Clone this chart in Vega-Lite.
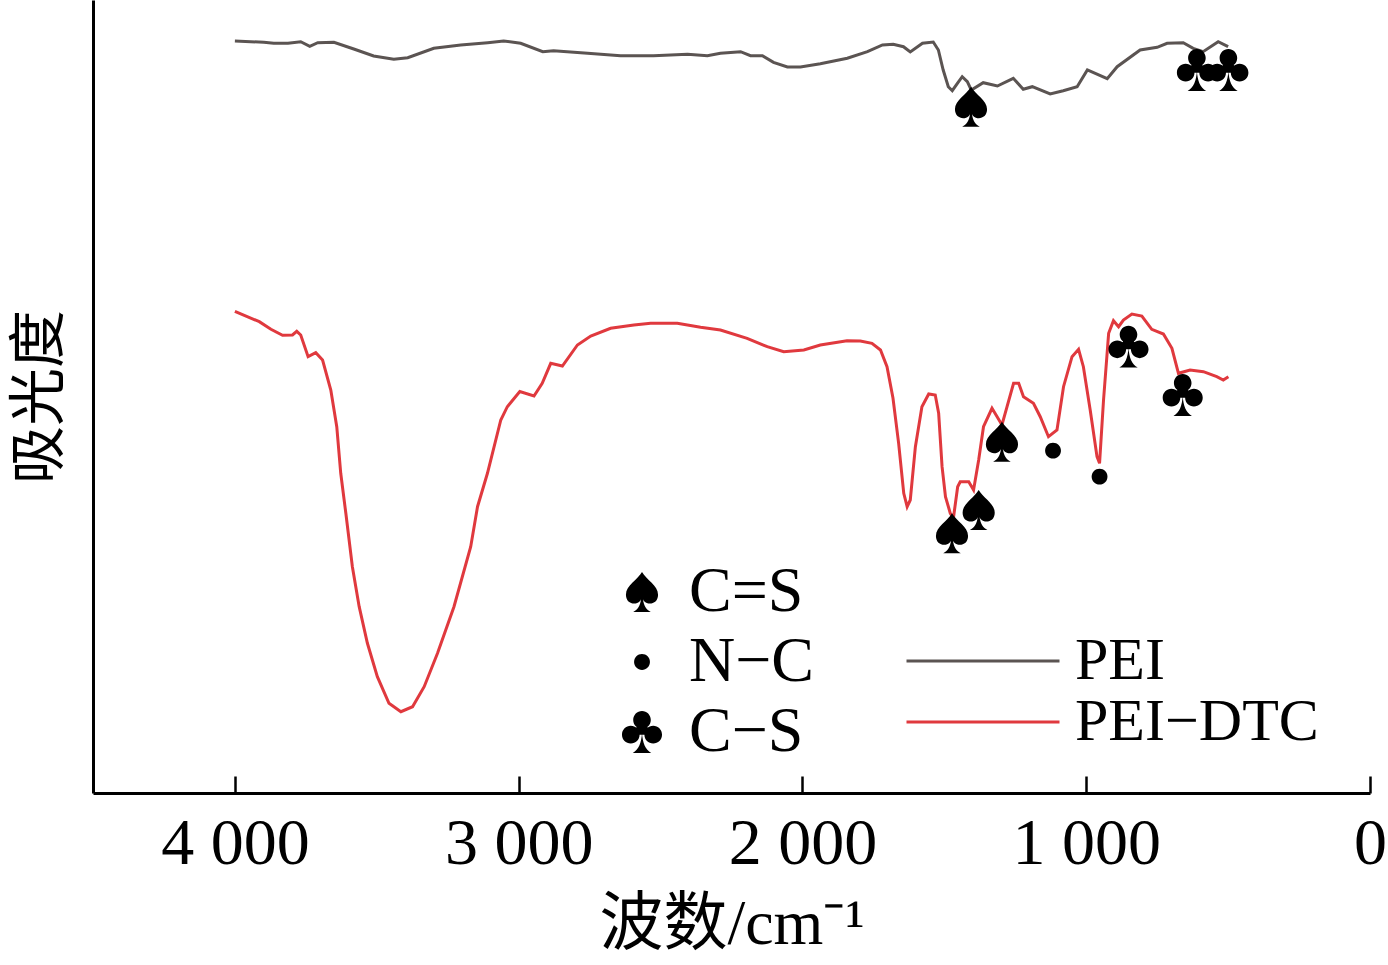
{
  "$schema": "https://vega.github.io/schema/vega-lite/v6.json",
  "autosize": "none",
  "width": 1277,
  "height": 793,
  "padding": {"left": 93, "top": 0, "right": 18, "bottom": 172},
  "background": "white",
  "config": {
    "view": {"stroke": null},
    "axis": {"grid": false, "domainColor": "black", "domainWidth": 3, "labelColor": "black", "titleColor": "black", "titleFontWeight": "normal"},
    "legend": {"labelColor": "black", "padding": 0}
  },
  "datasets": {
    "spectra": [
      {"series": "PEI", "wavenumber": 4000, "absorbance": 7.52},
      {"series": "PEI", "wavenumber": 3898, "absorbance": 7.507},
      {"series": "PEI", "wavenumber": 3863, "absorbance": 7.497},
      {"series": "PEI", "wavenumber": 3813, "absorbance": 7.497},
      {"series": "PEI", "wavenumber": 3768, "absorbance": 7.513},
      {"series": "PEI", "wavenumber": 3736, "absorbance": 7.467},
      {"series": "PEI", "wavenumber": 3708, "absorbance": 7.503},
      {"series": "PEI", "wavenumber": 3651, "absorbance": 7.507},
      {"series": "PEI", "wavenumber": 3581, "absorbance": 7.44},
      {"series": "PEI", "wavenumber": 3511, "absorbance": 7.37},
      {"series": "PEI", "wavenumber": 3440, "absorbance": 7.337},
      {"series": "PEI", "wavenumber": 3391, "absorbance": 7.353},
      {"series": "PEI", "wavenumber": 3299, "absorbance": 7.447},
      {"series": "PEI", "wavenumber": 3204, "absorbance": 7.48},
      {"series": "PEI", "wavenumber": 3109, "absorbance": 7.503},
      {"series": "PEI", "wavenumber": 3053, "absorbance": 7.52},
      {"series": "PEI", "wavenumber": 2993, "absorbance": 7.497},
      {"series": "PEI", "wavenumber": 2915, "absorbance": 7.413},
      {"series": "PEI", "wavenumber": 2877, "absorbance": 7.423},
      {"series": "PEI", "wavenumber": 2757, "absorbance": 7.397},
      {"series": "PEI", "wavenumber": 2641, "absorbance": 7.373},
      {"series": "PEI", "wavenumber": 2525, "absorbance": 7.373},
      {"series": "PEI", "wavenumber": 2405, "absorbance": 7.387},
      {"series": "PEI", "wavenumber": 2335, "absorbance": 7.373},
      {"series": "PEI", "wavenumber": 2289, "absorbance": 7.397},
      {"series": "PEI", "wavenumber": 2218, "absorbance": 7.413},
      {"series": "PEI", "wavenumber": 2183, "absorbance": 7.373},
      {"series": "PEI", "wavenumber": 2141, "absorbance": 7.373},
      {"series": "PEI", "wavenumber": 2102, "absorbance": 7.307},
      {"series": "PEI", "wavenumber": 2053, "absorbance": 7.26},
      {"series": "PEI", "wavenumber": 2007, "absorbance": 7.26},
      {"series": "PEI", "wavenumber": 1937, "absorbance": 7.293},
      {"series": "PEI", "wavenumber": 1842, "absorbance": 7.347},
      {"series": "PEI", "wavenumber": 1771, "absorbance": 7.413},
      {"series": "PEI", "wavenumber": 1718, "absorbance": 7.48},
      {"series": "PEI", "wavenumber": 1680, "absorbance": 7.487},
      {"series": "PEI", "wavenumber": 1644, "absorbance": 7.463},
      {"series": "PEI", "wavenumber": 1620, "absorbance": 7.41},
      {"series": "PEI", "wavenumber": 1577, "absorbance": 7.497},
      {"series": "PEI", "wavenumber": 1539, "absorbance": 7.51},
      {"series": "PEI", "wavenumber": 1521, "absorbance": 7.43},
      {"series": "PEI", "wavenumber": 1504, "absorbance": 7.23},
      {"series": "PEI", "wavenumber": 1486, "absorbance": 7.063},
      {"series": "PEI", "wavenumber": 1472, "absorbance": 7.023},
      {"series": "PEI", "wavenumber": 1454, "absorbance": 7.097},
      {"series": "PEI", "wavenumber": 1437, "absorbance": 7.163},
      {"series": "PEI", "wavenumber": 1419, "absorbance": 7.113},
      {"series": "PEI", "wavenumber": 1405, "absorbance": 7.03},
      {"series": "PEI", "wavenumber": 1363, "absorbance": 7.103},
      {"series": "PEI", "wavenumber": 1313, "absorbance": 7.07},
      {"series": "PEI", "wavenumber": 1257, "absorbance": 7.147},
      {"series": "PEI", "wavenumber": 1222, "absorbance": 7.037},
      {"series": "PEI", "wavenumber": 1190, "absorbance": 7.063},
      {"series": "PEI", "wavenumber": 1127, "absorbance": 6.99},
      {"series": "PEI", "wavenumber": 1081, "absorbance": 7.023},
      {"series": "PEI", "wavenumber": 1032, "absorbance": 7.063},
      {"series": "PEI", "wavenumber": 996, "absorbance": 7.23},
      {"series": "PEI", "wavenumber": 926, "absorbance": 7.143},
      {"series": "PEI", "wavenumber": 891, "absorbance": 7.263},
      {"series": "PEI", "wavenumber": 810, "absorbance": 7.43},
      {"series": "PEI", "wavenumber": 750, "absorbance": 7.457},
      {"series": "PEI", "wavenumber": 715, "absorbance": 7.497},
      {"series": "PEI", "wavenumber": 658, "absorbance": 7.503},
      {"series": "PEI", "wavenumber": 623, "absorbance": 7.447},
      {"series": "PEI", "wavenumber": 588, "absorbance": 7.413},
      {"series": "PEI", "wavenumber": 535, "absorbance": 7.513},
      {"series": "PEI", "wavenumber": 500, "absorbance": 7.463},
      {"series": "PEI−DTC", "wavenumber": 4000, "absorbance": 4.817},
      {"series": "PEI−DTC", "wavenumber": 3914, "absorbance": 4.713},
      {"series": "PEI−DTC", "wavenumber": 3873, "absorbance": 4.637},
      {"series": "PEI−DTC", "wavenumber": 3832, "absorbance": 4.577},
      {"series": "PEI−DTC", "wavenumber": 3797, "absorbance": 4.58},
      {"series": "PEI−DTC", "wavenumber": 3782, "absorbance": 4.617},
      {"series": "PEI−DTC", "wavenumber": 3768, "absorbance": 4.58},
      {"series": "PEI−DTC", "wavenumber": 3742, "absorbance": 4.363},
      {"series": "PEI−DTC", "wavenumber": 3715, "absorbance": 4.403},
      {"series": "PEI−DTC", "wavenumber": 3691, "absorbance": 4.33},
      {"series": "PEI−DTC", "wavenumber": 3662, "absorbance": 4.03},
      {"series": "PEI−DTC", "wavenumber": 3641, "absorbance": 3.663},
      {"series": "PEI−DTC", "wavenumber": 3627, "absorbance": 3.197},
      {"series": "PEI−DTC", "wavenumber": 3609, "absorbance": 2.797},
      {"series": "PEI−DTC", "wavenumber": 3586, "absorbance": 2.263},
      {"series": "PEI−DTC", "wavenumber": 3562, "absorbance": 1.863},
      {"series": "PEI−DTC", "wavenumber": 3533, "absorbance": 1.497},
      {"series": "PEI−DTC", "wavenumber": 3498, "absorbance": 1.163},
      {"series": "PEI−DTC", "wavenumber": 3457, "absorbance": 0.897},
      {"series": "PEI−DTC", "wavenumber": 3415, "absorbance": 0.813},
      {"series": "PEI−DTC", "wavenumber": 3374, "absorbance": 0.863},
      {"series": "PEI−DTC", "wavenumber": 3333, "absorbance": 1.063},
      {"series": "PEI−DTC", "wavenumber": 3286, "absorbance": 1.397},
      {"series": "PEI−DTC", "wavenumber": 3228, "absorbance": 1.863},
      {"series": "PEI−DTC", "wavenumber": 3169, "absorbance": 2.463},
      {"series": "PEI−DTC", "wavenumber": 3145, "absorbance": 2.863},
      {"series": "PEI−DTC", "wavenumber": 3110, "absorbance": 3.197},
      {"series": "PEI−DTC", "wavenumber": 3063, "absorbance": 3.73},
      {"series": "PEI−DTC", "wavenumber": 3040, "absorbance": 3.863},
      {"series": "PEI−DTC", "wavenumber": 2996, "absorbance": 4.015},
      {"series": "PEI−DTC", "wavenumber": 2946, "absorbance": 3.97},
      {"series": "PEI−DTC", "wavenumber": 2917, "absorbance": 4.097},
      {"series": "PEI−DTC", "wavenumber": 2887, "absorbance": 4.297},
      {"series": "PEI−DTC", "wavenumber": 2846, "absorbance": 4.27},
      {"series": "PEI−DTC", "wavenumber": 2793, "absorbance": 4.48},
      {"series": "PEI−DTC", "wavenumber": 2746, "absorbance": 4.57},
      {"series": "PEI−DTC", "wavenumber": 2676, "absorbance": 4.647},
      {"series": "PEI−DTC", "wavenumber": 2594, "absorbance": 4.68},
      {"series": "PEI−DTC", "wavenumber": 2535, "absorbance": 4.697},
      {"series": "PEI−DTC", "wavenumber": 2441, "absorbance": 4.697},
      {"series": "PEI−DTC", "wavenumber": 2359, "absorbance": 4.657},
      {"series": "PEI−DTC", "wavenumber": 2289, "absorbance": 4.63},
      {"series": "PEI−DTC", "wavenumber": 2195, "absorbance": 4.547},
      {"series": "PEI−DTC", "wavenumber": 2124, "absorbance": 4.463},
      {"series": "PEI−DTC", "wavenumber": 2066, "absorbance": 4.413},
      {"series": "PEI−DTC", "wavenumber": 1995, "absorbance": 4.43},
      {"series": "PEI−DTC", "wavenumber": 1937, "absorbance": 4.48},
      {"series": "PEI−DTC", "wavenumber": 1843, "absorbance": 4.523},
      {"series": "PEI−DTC", "wavenumber": 1796, "absorbance": 4.52},
      {"series": "PEI−DTC", "wavenumber": 1755, "absorbance": 4.497},
      {"series": "PEI−DTC", "wavenumber": 1725, "absorbance": 4.43},
      {"series": "PEI−DTC", "wavenumber": 1702, "absorbance": 4.263},
      {"series": "PEI−DTC", "wavenumber": 1681, "absorbance": 3.95},
      {"series": "PEI−DTC", "wavenumber": 1661, "absorbance": 3.497},
      {"series": "PEI−DTC", "wavenumber": 1643, "absorbance": 2.997},
      {"series": "PEI−DTC", "wavenumber": 1631, "absorbance": 2.863},
      {"series": "PEI−DTC", "wavenumber": 1620, "absorbance": 2.93},
      {"series": "PEI−DTC", "wavenumber": 1602, "absorbance": 3.463},
      {"series": "PEI−DTC", "wavenumber": 1579, "absorbance": 3.863},
      {"series": "PEI−DTC", "wavenumber": 1555, "absorbance": 3.99},
      {"series": "PEI−DTC", "wavenumber": 1532, "absorbance": 3.98},
      {"series": "PEI−DTC", "wavenumber": 1520, "absorbance": 3.797},
      {"series": "PEI−DTC", "wavenumber": 1508, "absorbance": 3.263},
      {"series": "PEI−DTC", "wavenumber": 1496, "absorbance": 2.963},
      {"series": "PEI−DTC", "wavenumber": 1479, "absorbance": 2.797},
      {"series": "PEI−DTC", "wavenumber": 1468, "absorbance": 2.75},
      {"series": "PEI−DTC", "wavenumber": 1453, "absorbance": 3.063},
      {"series": "PEI−DTC", "wavenumber": 1444, "absorbance": 3.113},
      {"series": "PEI−DTC", "wavenumber": 1414, "absorbance": 3.113},
      {"series": "PEI−DTC", "wavenumber": 1397, "absorbance": 3.03},
      {"series": "PEI−DTC", "wavenumber": 1379, "absorbance": 3.33},
      {"series": "PEI−DTC", "wavenumber": 1362, "absorbance": 3.663},
      {"series": "PEI−DTC", "wavenumber": 1332, "absorbance": 3.847},
      {"series": "PEI−DTC", "wavenumber": 1314, "absorbance": 3.763},
      {"series": "PEI−DTC", "wavenumber": 1297, "absorbance": 3.68},
      {"series": "PEI−DTC", "wavenumber": 1279, "absorbance": 3.863},
      {"series": "PEI−DTC", "wavenumber": 1256, "absorbance": 4.097},
      {"series": "PEI−DTC", "wavenumber": 1238, "absorbance": 4.097},
      {"series": "PEI−DTC", "wavenumber": 1221, "absorbance": 3.963},
      {"series": "PEI−DTC", "wavenumber": 1186, "absorbance": 3.897},
      {"series": "PEI−DTC", "wavenumber": 1162, "absorbance": 3.763},
      {"series": "PEI−DTC", "wavenumber": 1133, "absorbance": 3.563},
      {"series": "PEI−DTC", "wavenumber": 1103, "absorbance": 3.63},
      {"series": "PEI−DTC", "wavenumber": 1080, "absorbance": 4.063},
      {"series": "PEI−DTC", "wavenumber": 1050, "absorbance": 4.363},
      {"series": "PEI−DTC", "wavenumber": 1027, "absorbance": 4.437},
      {"series": "PEI−DTC", "wavenumber": 1010, "absorbance": 4.263},
      {"series": "PEI−DTC", "wavenumber": 986, "absorbance": 3.83},
      {"series": "PEI−DTC", "wavenumber": 962, "absorbance": 3.363},
      {"series": "PEI−DTC", "wavenumber": 953, "absorbance": 3.297},
      {"series": "PEI−DTC", "wavenumber": 939, "absorbance": 3.93},
      {"series": "PEI−DTC", "wavenumber": 921, "absorbance": 4.597},
      {"series": "PEI−DTC", "wavenumber": 904, "absorbance": 4.723},
      {"series": "PEI−DTC", "wavenumber": 886, "absorbance": 4.663},
      {"series": "PEI−DTC", "wavenumber": 869, "absorbance": 4.73},
      {"series": "PEI−DTC", "wavenumber": 839, "absorbance": 4.79},
      {"series": "PEI−DTC", "wavenumber": 804, "absorbance": 4.77},
      {"series": "PEI−DTC", "wavenumber": 769, "absorbance": 4.637},
      {"series": "PEI−DTC", "wavenumber": 728, "absorbance": 4.59},
      {"series": "PEI−DTC", "wavenumber": 698, "absorbance": 4.447},
      {"series": "PEI−DTC", "wavenumber": 675, "absorbance": 4.197},
      {"series": "PEI−DTC", "wavenumber": 634, "absorbance": 4.23},
      {"series": "PEI−DTC", "wavenumber": 587, "absorbance": 4.213},
      {"series": "PEI−DTC", "wavenumber": 540, "absorbance": 4.163},
      {"series": "PEI−DTC", "wavenumber": 517, "absorbance": 4.13},
      {"series": "PEI−DTC", "wavenumber": 499, "absorbance": 4.163}
    ],
    "markers": [
      {"bond": "C=S", "wavenumber": 1406, "absorbance": 6.863},
      {"bond": "C−S", "wavenumber": 610, "absorbance": 7.23},
      {"bond": "C−S", "wavenumber": 499, "absorbance": 7.23},
      {"bond": "C=S", "wavenumber": 1473, "absorbance": 2.597},
      {"bond": "C=S", "wavenumber": 1379, "absorbance": 2.83},
      {"bond": "C=S", "wavenumber": 1297, "absorbance": 3.513},
      {"bond": "N−C", "wavenumber": 1117, "absorbance": 3.423},
      {"bond": "N−C", "wavenumber": 953, "absorbance": 3.163},
      {"bond": "C−S", "wavenumber": 851, "absorbance": 4.463},
      {"bond": "C−S", "wavenumber": 660, "absorbance": 3.98}
    ]
  },
  "layer": [
    {
      "data": {"name": "spectra"},
      "mark": {"type": "line", "strokeWidth": 3},
      "encoding": {
        "x": {
          "field": "wavenumber", "type": "quantitative",
          "scale": {"domain": [0, 4500], "reverse": true, "nice": false, "zero": false},
          "axis": {
            "values": [4000, 3000, 2000, 1000, 0],
            "format": ",d",
            "labelExpr": "replace(datum.label, ',', ' ')",
            "labelFont": "Liberation Serif",
            "labelFontSize": 66,
            "labelPadding": 35,
            "tickSize": -17,
            "tickWidth": 2.5,
            "tickColor": "black",
            "labelFlush": false,
            "labelOverlap": false,
            "title": "波数/cm⁻¹",
            "titleFont": "Liberation Serif, Noto Sans CJK SC",
            "titleFontSize": 64,
            "titlePadding": 16
          }
        },
        "y": {
          "field": "absorbance", "type": "quantitative",
          "scale": {"domain": [0, 7.93], "nice": false, "zero": false},
          "axis": {
            "ticks": false,
            "labels": false,
            "title": "吸光度",
            "titleFont": "Noto Sans CJK SC",
            "titleFontSize": 58,
            "titlePadding": 24
          }
        },
        "color": {
          "field": "series", "type": "nominal",
          "scale": {"domain": ["PEI", "PEI−DTC"], "range": ["#5b5452", "#e0393e"]},
          "legend": {
            "orient": "none",
            "legendX": 812,
            "legendY": 641,
            "title": null,
            "symbolType": "stroke",
            "symbolSize": 23409,
            "symbolStrokeWidth": 3,
            "clipHeight": 40,
            "rowPadding": 1,
            "labelFont": "Liberation Serif",
            "labelFontSize": 60,
            "labelOffset": 14,
            "labelLimit": 0
          }
        }
      }
    },
    {
      "data": {"name": "markers"},
      "mark": {"type": "point", "filled": true, "color": "black", "opacity": 1, "size": 1936, "strokeWidth": 0},
      "encoding": {
        "x": {"field": "wavenumber", "type": "quantitative"},
        "y": {"field": "absorbance", "type": "quantitative"},
        "shape": {
          "field": "bond", "type": "nominal",
          "scale": {
            "domain": ["C=S", "N−C", "C−S"],
            "range": [
              "M0,-0.91 C0.2,-0.55 0.73,-0.3 0.73,0.12 C0.73,0.45 0.45,0.58 0.22,0.5 C0.12,0.46 0.06,0.4 0.04,0.32 C0.08,0.62 0.2,0.82 0.4,0.91 L-0.4,0.91 C-0.2,0.82 -0.08,0.62 -0.04,0.32 C-0.06,0.4 -0.12,0.46 -0.22,0.5 C-0.45,0.58 -0.73,0.45 -0.73,0.12 C-0.73,-0.3 -0.2,-0.55 0,-0.91 Z",
              "M-0.36,0 A0.36,0.36 0 1,1 0.36,0 A0.36,0.36 0 1,1 -0.36,0 Z",
              "M-0.4,-0.55 A0.4,0.4 0 1,1 0.4,-0.55 A0.4,0.4 0 1,1 -0.4,-0.55 Z M-0.91,0.12 A0.4,0.4 0 1,1 -0.11,0.12 A0.4,0.4 0 1,1 -0.91,0.12 Z M0.11,0.12 A0.4,0.4 0 1,1 0.91,0.12 A0.4,0.4 0 1,1 0.11,0.12 Z M0,-0.55 L0.51,0.12 L-0.51,0.12 Z M0,0.05 C0.03,0.5 0.15,0.8 0.42,0.95 L-0.42,0.95 C-0.15,0.8 -0.03,0.5 0,0.05 Z"
            ]
          },
          "legend": {
            "orient": "none",
            "legendX": 517,
            "legendY": 560,
            "title": null,
            "symbolSize": 1936,
            "symbolFillColor": "black",
            "symbolStrokeColor": "black",
            "symbolStrokeWidth": 0,
            "rowPadding": 6,
            "labelFont": "Liberation Serif",
            "labelFontSize": 64,
            "labelOffset": 15,
            "labelLimit": 0
          }
        }
      }
    }
  ]
}
